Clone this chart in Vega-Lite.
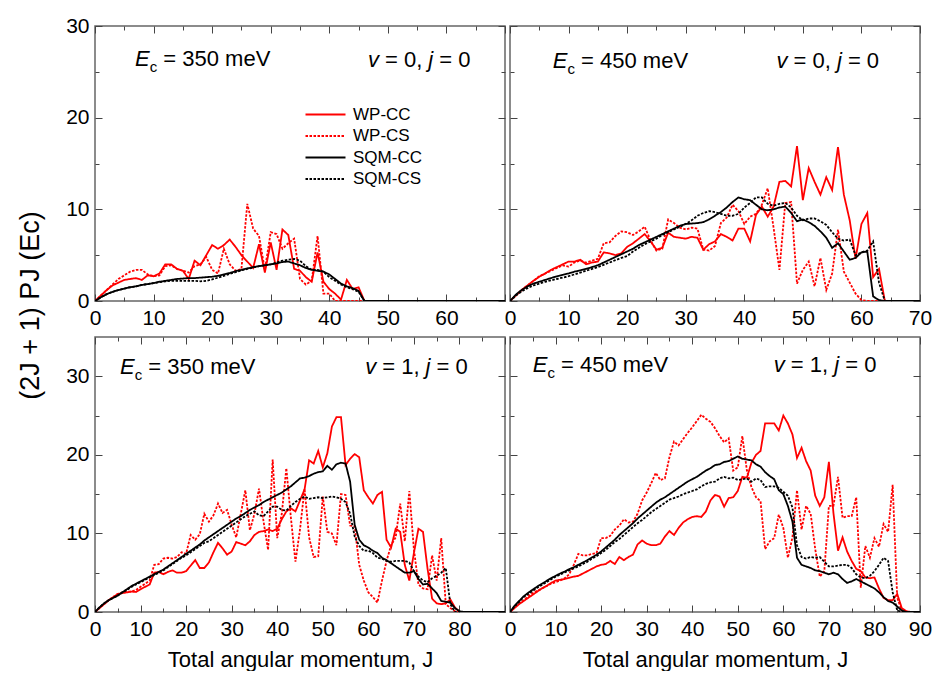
{
"$schema":"https://vega.github.io/schema/vega-lite/v6.json",
"padding":{"left":15,"top":14,"right":0,"bottom":0},
"datasets":{
"tl":[
{"s":"WP-CC","J":0,"P":0},{"s":"WP-CC","J":1,"P":0.6},{"s":"WP-CC","J":2,"P":1.2},{"s":"WP-CC","J":3,"P":1.7},{"s":"WP-CC","J":4,"P":2.0},{"s":"WP-CC","J":5,"P":2.3},{"s":"WP-CC","J":6,"P":2.4},{"s":"WP-CC","J":7,"P":2.5},{"s":"WP-CC","J":8,"P":2.3},{"s":"WP-CC","J":9,"P":2.8},{"s":"WP-CC","J":10,"P":2.7},{"s":"WP-CC","J":11,"P":3.0},{"s":"WP-CC","J":12,"P":4.0},{"s":"WP-CC","J":13,"P":4.0},{"s":"WP-CC","J":14,"P":3.5},{"s":"WP-CC","J":15,"P":3.3},{"s":"WP-CC","J":16,"P":2.4},{"s":"WP-CC","J":17,"P":4.4},{"s":"WP-CC","J":18,"P":3.9},{"s":"WP-CC","J":19,"P":5.0},{"s":"WP-CC","J":20,"P":6.1},{"s":"WP-CC","J":21,"P":5.7},{"s":"WP-CC","J":22,"P":6.1},{"s":"WP-CC","J":23,"P":6.7},{"s":"WP-CC","J":24,"P":5.9},{"s":"WP-CC","J":25,"P":5.0},{"s":"WP-CC","J":26,"P":4.3},{"s":"WP-CC","J":27,"P":3.6},{"s":"WP-CC","J":28,"P":6.2},{"s":"WP-CC","J":29,"P":3.1},{"s":"WP-CC","J":30,"P":6.4},{"s":"WP-CC","J":31,"P":3.4},{"s":"WP-CC","J":32,"P":7.8},{"s":"WP-CC","J":33,"P":7.2},{"s":"WP-CC","J":34,"P":3.5},{"s":"WP-CC","J":35,"P":3.3},{"s":"WP-CC","J":36,"P":2.6},{"s":"WP-CC","J":37,"P":2.1},{"s":"WP-CC","J":38,"P":5.3},{"s":"WP-CC","J":39,"P":2.1},{"s":"WP-CC","J":40,"P":1.3},{"s":"WP-CC","J":41,"P":0.8},{"s":"WP-CC","J":42,"P":0.15},{"s":"WP-CC","J":43,"P":2.3},{"s":"WP-CC","J":44,"P":1.3},{"s":"WP-CC","J":45,"P":1.5},{"s":"WP-CC","J":46,"P":0},{"s":"WP-CC","J":51,"P":0},
{"s":"WP-CS","J":0,"P":0},{"s":"WP-CS","J":1,"P":0.6},{"s":"WP-CS","J":2,"P":1.2},{"s":"WP-CS","J":3,"P":1.8},{"s":"WP-CS","J":4,"P":2.4},{"s":"WP-CS","J":5,"P":2.8},{"s":"WP-CS","J":6,"P":3.2},{"s":"WP-CS","J":7,"P":3.4},{"s":"WP-CS","J":8,"P":3.4},{"s":"WP-CS","J":9,"P":2.9},{"s":"WP-CS","J":10,"P":2.7},{"s":"WP-CS","J":11,"P":2.8},{"s":"WP-CS","J":12,"P":3.8},{"s":"WP-CS","J":13,"P":3.9},{"s":"WP-CS","J":14,"P":3.5},{"s":"WP-CS","J":15,"P":3.3},{"s":"WP-CS","J":16,"P":3.1},{"s":"WP-CS","J":17,"P":3.8},{"s":"WP-CS","J":18,"P":4.0},{"s":"WP-CS","J":19,"P":4.8},{"s":"WP-CS","J":20,"P":3.4},{"s":"WP-CS","J":21,"P":3.0},{"s":"WP-CS","J":22,"P":5.7},{"s":"WP-CS","J":23,"P":4.0},{"s":"WP-CS","J":24,"P":3.3},{"s":"WP-CS","J":25,"P":3.5},{"s":"WP-CS","J":26,"P":10.6},{"s":"WP-CS","J":27,"P":7.9},{"s":"WP-CS","J":28,"P":7.1},{"s":"WP-CS","J":29,"P":3.4},{"s":"WP-CS","J":30,"P":7.5},{"s":"WP-CS","J":31,"P":7.3},{"s":"WP-CS","J":32,"P":5.7},{"s":"WP-CS","J":33,"P":6.3},{"s":"WP-CS","J":34,"P":6.8},{"s":"WP-CS","J":35,"P":2.4},{"s":"WP-CS","J":36,"P":1.8},{"s":"WP-CS","J":37,"P":2.2},{"s":"WP-CS","J":38,"P":7.1},{"s":"WP-CS","J":39,"P":0.8},{"s":"WP-CS","J":40,"P":0.8},{"s":"WP-CS","J":41,"P":0},{"s":"WP-CS","J":46,"P":0},
{"s":"SQM-CC","J":0,"P":0},{"s":"SQM-CC","J":1,"P":0.4},{"s":"SQM-CC","J":2,"P":0.75},{"s":"SQM-CC","J":3,"P":1.0},{"s":"SQM-CC","J":4,"P":1.2},{"s":"SQM-CC","J":5,"P":1.35},{"s":"SQM-CC","J":6,"P":1.5},{"s":"SQM-CC","J":7,"P":1.6},{"s":"SQM-CC","J":8,"P":1.75},{"s":"SQM-CC","J":9,"P":1.85},{"s":"SQM-CC","J":10,"P":1.95},{"s":"SQM-CC","J":11,"P":2.1},{"s":"SQM-CC","J":12,"P":2.2},{"s":"SQM-CC","J":13,"P":2.3},{"s":"SQM-CC","J":14,"P":2.4},{"s":"SQM-CC","J":15,"P":2.45},{"s":"SQM-CC","J":16,"P":2.5},{"s":"SQM-CC","J":17,"P":2.5},{"s":"SQM-CC","J":18,"P":2.55},{"s":"SQM-CC","J":19,"P":2.6},{"s":"SQM-CC","J":20,"P":2.65},{"s":"SQM-CC","J":21,"P":2.75},{"s":"SQM-CC","J":22,"P":2.9},{"s":"SQM-CC","J":23,"P":3.05},{"s":"SQM-CC","J":24,"P":3.25},{"s":"SQM-CC","J":25,"P":3.4},{"s":"SQM-CC","J":26,"P":3.55},{"s":"SQM-CC","J":27,"P":3.7},{"s":"SQM-CC","J":28,"P":3.8},{"s":"SQM-CC","J":29,"P":3.9},{"s":"SQM-CC","J":30,"P":4.0},{"s":"SQM-CC","J":31,"P":4.1},{"s":"SQM-CC","J":32,"P":4.25},{"s":"SQM-CC","J":33,"P":4.3},{"s":"SQM-CC","J":34,"P":4.1},{"s":"SQM-CC","J":35,"P":3.9},{"s":"SQM-CC","J":36,"P":3.6},{"s":"SQM-CC","J":37,"P":3.4},{"s":"SQM-CC","J":38,"P":3.3},{"s":"SQM-CC","J":39,"P":3.2},{"s":"SQM-CC","J":40,"P":2.9},{"s":"SQM-CC","J":41,"P":2.4},{"s":"SQM-CC","J":42,"P":1.9},{"s":"SQM-CC","J":43,"P":1.6},{"s":"SQM-CC","J":44,"P":1.4},{"s":"SQM-CC","J":45,"P":1.1},{"s":"SQM-CC","J":46,"P":0},{"s":"SQM-CC","J":70,"P":0},
{"s":"SQM-CS","J":0,"P":0},{"s":"SQM-CS","J":1,"P":0.4},{"s":"SQM-CS","J":2,"P":0.75},{"s":"SQM-CS","J":3,"P":1.0},{"s":"SQM-CS","J":4,"P":1.2},{"s":"SQM-CS","J":5,"P":1.35},{"s":"SQM-CS","J":6,"P":1.5},{"s":"SQM-CS","J":7,"P":1.6},{"s":"SQM-CS","J":8,"P":1.75},{"s":"SQM-CS","J":9,"P":1.85},{"s":"SQM-CS","J":10,"P":1.95},{"s":"SQM-CS","J":11,"P":2.05},{"s":"SQM-CS","J":12,"P":2.15},{"s":"SQM-CS","J":13,"P":2.2},{"s":"SQM-CS","J":14,"P":2.2},{"s":"SQM-CS","J":15,"P":2.2},{"s":"SQM-CS","J":16,"P":2.2},{"s":"SQM-CS","J":17,"P":2.2},{"s":"SQM-CS","J":18,"P":2.15},{"s":"SQM-CS","J":19,"P":2.2},{"s":"SQM-CS","J":20,"P":2.35},{"s":"SQM-CS","J":21,"P":2.55},{"s":"SQM-CS","J":22,"P":2.75},{"s":"SQM-CS","J":23,"P":2.95},{"s":"SQM-CS","J":24,"P":3.15},{"s":"SQM-CS","J":25,"P":3.35},{"s":"SQM-CS","J":26,"P":3.5},{"s":"SQM-CS","J":27,"P":3.65},{"s":"SQM-CS","J":28,"P":3.8},{"s":"SQM-CS","J":29,"P":3.9},{"s":"SQM-CS","J":30,"P":4.0},{"s":"SQM-CS","J":31,"P":4.2},{"s":"SQM-CS","J":32,"P":4.4},{"s":"SQM-CS","J":33,"P":4.5},{"s":"SQM-CS","J":34,"P":4.6},{"s":"SQM-CS","J":35,"P":4.4},{"s":"SQM-CS","J":36,"P":3.8},{"s":"SQM-CS","J":37,"P":3.4},{"s":"SQM-CS","J":38,"P":3.4},{"s":"SQM-CS","J":39,"P":3.2},{"s":"SQM-CS","J":40,"P":2.6},{"s":"SQM-CS","J":41,"P":2.2},{"s":"SQM-CS","J":42,"P":1.8},{"s":"SQM-CS","J":43,"P":1.5},{"s":"SQM-CS","J":44,"P":1.3},{"s":"SQM-CS","J":45,"P":1.0},{"s":"SQM-CS","J":46,"P":0},{"s":"SQM-CS","J":70,"P":0}
],
"tr":[
{"s":"WP-CC","J":0,"P":0},{"s":"WP-CC","J":1,"P":0.6},{"s":"WP-CC","J":2,"P":1.2},{"s":"WP-CC","J":3,"P":1.7},{"s":"WP-CC","J":4,"P":2.2},{"s":"WP-CC","J":5,"P":2.65},{"s":"WP-CC","J":6,"P":3.0},{"s":"WP-CC","J":7,"P":3.4},{"s":"WP-CC","J":8,"P":3.7},{"s":"WP-CC","J":9,"P":4.0},{"s":"WP-CC","J":10,"P":4.3},{"s":"WP-CC","J":11,"P":4.3},{"s":"WP-CC","J":12,"P":4.5},{"s":"WP-CC","J":13,"P":4.0},{"s":"WP-CC","J":14,"P":4.2},{"s":"WP-CC","J":15,"P":4.3},{"s":"WP-CC","J":16,"P":5.3},{"s":"WP-CC","J":17,"P":5.2},{"s":"WP-CC","J":18,"P":5.0},{"s":"WP-CC","J":19,"P":5.2},{"s":"WP-CC","J":20,"P":5.9},{"s":"WP-CC","J":21,"P":6.3},{"s":"WP-CC","J":22,"P":6.8},{"s":"WP-CC","J":23,"P":7.3},{"s":"WP-CC","J":24,"P":6.5},{"s":"WP-CC","J":25,"P":5.6},{"s":"WP-CC","J":26,"P":5.8},{"s":"WP-CC","J":27,"P":7.45},{"s":"WP-CC","J":28,"P":7.0},{"s":"WP-CC","J":29,"P":6.9},{"s":"WP-CC","J":30,"P":6.8},{"s":"WP-CC","J":31,"P":7.0},{"s":"WP-CC","J":32,"P":6.9},{"s":"WP-CC","J":33,"P":5.6},{"s":"WP-CC","J":34,"P":6.2},{"s":"WP-CC","J":35,"P":6.5},{"s":"WP-CC","J":36,"P":7.3},{"s":"WP-CC","J":37,"P":7.0},{"s":"WP-CC","J":38,"P":6.6},{"s":"WP-CC","J":39,"P":7.9},{"s":"WP-CC","J":40,"P":7.9},{"s":"WP-CC","J":41,"P":6.5},{"s":"WP-CC","J":42,"P":9.4},{"s":"WP-CC","J":43,"P":10.3},{"s":"WP-CC","J":44,"P":9.2},{"s":"WP-CC","J":45,"P":10.3},{"s":"WP-CC","J":46,"P":13.0},{"s":"WP-CC","J":47,"P":13.1},{"s":"WP-CC","J":48,"P":12.5},{"s":"WP-CC","J":49,"P":16.9},{"s":"WP-CC","J":50,"P":11.0},{"s":"WP-CC","J":51,"P":14.5},{"s":"WP-CC","J":52,"P":13.0},{"s":"WP-CC","J":53,"P":11.6},{"s":"WP-CC","J":54,"P":13.5},{"s":"WP-CC","J":55,"P":12.1},{"s":"WP-CC","J":56,"P":16.8},{"s":"WP-CC","J":57,"P":11.6},{"s":"WP-CC","J":58,"P":8.8},{"s":"WP-CC","J":59,"P":4.6},{"s":"WP-CC","J":60,"P":8.4},{"s":"WP-CC","J":61,"P":9.6},{"s":"WP-CC","J":62,"P":2.6},{"s":"WP-CC","J":63,"P":3.5},{"s":"WP-CC","J":64,"P":0},{"s":"WP-CC","J":70,"P":0},
{"s":"WP-CS","J":0,"P":0},{"s":"WP-CS","J":1,"P":0.6},{"s":"WP-CS","J":2,"P":1.2},{"s":"WP-CS","J":3,"P":1.7},{"s":"WP-CS","J":4,"P":2.2},{"s":"WP-CS","J":5,"P":2.7},{"s":"WP-CS","J":6,"P":3.0},{"s":"WP-CS","J":7,"P":3.3},{"s":"WP-CS","J":8,"P":3.6},{"s":"WP-CS","J":9,"P":3.9},{"s":"WP-CS","J":10,"P":3.75},{"s":"WP-CS","J":11,"P":4.2},{"s":"WP-CS","J":12,"P":4.4},{"s":"WP-CS","J":13,"P":4.2},{"s":"WP-CS","J":14,"P":4.4},{"s":"WP-CS","J":15,"P":4.6},{"s":"WP-CS","J":16,"P":6.3},{"s":"WP-CS","J":17,"P":6.4},{"s":"WP-CS","J":18,"P":7.1},{"s":"WP-CS","J":19,"P":7.6},{"s":"WP-CS","J":20,"P":7.5},{"s":"WP-CS","J":21,"P":7.2},{"s":"WP-CS","J":22,"P":7.6},{"s":"WP-CS","J":23,"P":8.1},{"s":"WP-CS","J":24,"P":6.6},{"s":"WP-CS","J":25,"P":5.5},{"s":"WP-CS","J":26,"P":5.7},{"s":"WP-CS","J":27,"P":8.9},{"s":"WP-CS","J":28,"P":8.5},{"s":"WP-CS","J":29,"P":8.0},{"s":"WP-CS","J":30,"P":7.8},{"s":"WP-CS","J":31,"P":8.0},{"s":"WP-CS","J":32,"P":7.9},{"s":"WP-CS","J":33,"P":5.6},{"s":"WP-CS","J":34,"P":5.5},{"s":"WP-CS","J":35,"P":6.0},{"s":"WP-CS","J":36,"P":8.5},{"s":"WP-CS","J":37,"P":9.1},{"s":"WP-CS","J":38,"P":10.5},{"s":"WP-CS","J":39,"P":9.8},{"s":"WP-CS","J":40,"P":8.4},{"s":"WP-CS","J":41,"P":9.2},{"s":"WP-CS","J":42,"P":9.5},{"s":"WP-CS","J":43,"P":10.5},{"s":"WP-CS","J":44,"P":12.3},{"s":"WP-CS","J":45,"P":8.0},{"s":"WP-CS","J":46,"P":3.4},{"s":"WP-CS","J":47,"P":10.7},{"s":"WP-CS","J":48,"P":10.8},{"s":"WP-CS","J":49,"P":1.9},{"s":"WP-CS","J":50,"P":3.4},{"s":"WP-CS","J":51,"P":4.3},{"s":"WP-CS","J":52,"P":1.6},{"s":"WP-CS","J":53,"P":4.7},{"s":"WP-CS","J":54,"P":1.2},{"s":"WP-CS","J":55,"P":3.0},{"s":"WP-CS","J":56,"P":7.8},{"s":"WP-CS","J":57,"P":3.2},{"s":"WP-CS","J":58,"P":2.0},{"s":"WP-CS","J":59,"P":0.8},{"s":"WP-CS","J":60,"P":0.1},{"s":"WP-CS","J":61,"P":0},{"s":"WP-CS","J":64,"P":0},
{"s":"SQM-CC","J":0,"P":0},{"s":"SQM-CC","J":1,"P":0.7},{"s":"SQM-CC","J":2,"P":1.2},{"s":"SQM-CC","J":3,"P":1.6},{"s":"SQM-CC","J":4,"P":1.9},{"s":"SQM-CC","J":5,"P":2.1},{"s":"SQM-CC","J":6,"P":2.3},{"s":"SQM-CC","J":7,"P":2.5},{"s":"SQM-CC","J":8,"P":2.7},{"s":"SQM-CC","J":9,"P":2.85},{"s":"SQM-CC","J":10,"P":3.0},{"s":"SQM-CC","J":11,"P":3.2},{"s":"SQM-CC","J":12,"P":3.35},{"s":"SQM-CC","J":13,"P":3.5},{"s":"SQM-CC","J":14,"P":3.7},{"s":"SQM-CC","J":15,"P":3.9},{"s":"SQM-CC","J":16,"P":4.2},{"s":"SQM-CC","J":17,"P":4.5},{"s":"SQM-CC","J":18,"P":4.8},{"s":"SQM-CC","J":19,"P":5.1},{"s":"SQM-CC","J":20,"P":5.4},{"s":"SQM-CC","J":21,"P":5.7},{"s":"SQM-CC","J":22,"P":6.1},{"s":"SQM-CC","J":23,"P":6.4},{"s":"SQM-CC","J":24,"P":6.7},{"s":"SQM-CC","J":25,"P":7.0},{"s":"SQM-CC","J":26,"P":7.3},{"s":"SQM-CC","J":27,"P":7.6},{"s":"SQM-CC","J":28,"P":7.9},{"s":"SQM-CC","J":29,"P":8.2},{"s":"SQM-CC","J":30,"P":8.4},{"s":"SQM-CC","J":31,"P":8.45},{"s":"SQM-CC","J":32,"P":8.5},{"s":"SQM-CC","J":33,"P":8.6},{"s":"SQM-CC","J":34,"P":8.9},{"s":"SQM-CC","J":35,"P":9.3},{"s":"SQM-CC","J":36,"P":9.7},{"s":"SQM-CC","J":37,"P":10.2},{"s":"SQM-CC","J":38,"P":10.8},{"s":"SQM-CC","J":39,"P":11.3},{"s":"SQM-CC","J":40,"P":11.1},{"s":"SQM-CC","J":41,"P":11.0},{"s":"SQM-CC","J":42,"P":10.5},{"s":"SQM-CC","J":43,"P":10.0},{"s":"SQM-CC","J":44,"P":9.9},{"s":"SQM-CC","J":45,"P":10.0},{"s":"SQM-CC","J":46,"P":10.2},{"s":"SQM-CC","J":47,"P":10.3},{"s":"SQM-CC","J":48,"P":9.6},{"s":"SQM-CC","J":49,"P":8.7},{"s":"SQM-CC","J":50,"P":8.9},{"s":"SQM-CC","J":51,"P":8.6},{"s":"SQM-CC","J":52,"P":8.2},{"s":"SQM-CC","J":53,"P":7.6},{"s":"SQM-CC","J":54,"P":6.9},{"s":"SQM-CC","J":55,"P":5.8},{"s":"SQM-CC","J":56,"P":6.3},{"s":"SQM-CC","J":57,"P":5.4},{"s":"SQM-CC","J":58,"P":4.5},{"s":"SQM-CC","J":59,"P":4.7},{"s":"SQM-CC","J":60,"P":5.3},{"s":"SQM-CC","J":61,"P":5.4},{"s":"SQM-CC","J":62,"P":0.5},{"s":"SQM-CC","J":63,"P":0.1},{"s":"SQM-CC","J":64,"P":0},{"s":"SQM-CC","J":70,"P":0},
{"s":"SQM-CS","J":0,"P":0},{"s":"SQM-CS","J":1,"P":0.6},{"s":"SQM-CS","J":2,"P":1.05},{"s":"SQM-CS","J":3,"P":1.4},{"s":"SQM-CS","J":4,"P":1.7},{"s":"SQM-CS","J":5,"P":1.9},{"s":"SQM-CS","J":6,"P":2.1},{"s":"SQM-CS","J":7,"P":2.25},{"s":"SQM-CS","J":8,"P":2.4},{"s":"SQM-CS","J":9,"P":2.55},{"s":"SQM-CS","J":10,"P":2.7},{"s":"SQM-CS","J":11,"P":2.9},{"s":"SQM-CS","J":12,"P":3.1},{"s":"SQM-CS","J":13,"P":3.3},{"s":"SQM-CS","J":14,"P":3.5},{"s":"SQM-CS","J":15,"P":3.7},{"s":"SQM-CS","J":16,"P":3.95},{"s":"SQM-CS","J":17,"P":4.2},{"s":"SQM-CS","J":18,"P":4.45},{"s":"SQM-CS","J":19,"P":4.7},{"s":"SQM-CS","J":20,"P":4.9},{"s":"SQM-CS","J":21,"P":5.4},{"s":"SQM-CS","J":22,"P":5.8},{"s":"SQM-CS","J":23,"P":6.2},{"s":"SQM-CS","J":24,"P":6.5},{"s":"SQM-CS","J":25,"P":6.8},{"s":"SQM-CS","J":26,"P":7.2},{"s":"SQM-CS","J":27,"P":7.5},{"s":"SQM-CS","J":28,"P":7.8},{"s":"SQM-CS","J":29,"P":8.1},{"s":"SQM-CS","J":30,"P":8.4},{"s":"SQM-CS","J":31,"P":8.8},{"s":"SQM-CS","J":32,"P":9.3},{"s":"SQM-CS","J":33,"P":9.6},{"s":"SQM-CS","J":34,"P":9.8},{"s":"SQM-CS","J":35,"P":9.7},{"s":"SQM-CS","J":36,"P":9.5},{"s":"SQM-CS","J":37,"P":9.3},{"s":"SQM-CS","J":38,"P":9.3},{"s":"SQM-CS","J":39,"P":9.5},{"s":"SQM-CS","J":40,"P":10.2},{"s":"SQM-CS","J":41,"P":10.7},{"s":"SQM-CS","J":42,"P":11.3},{"s":"SQM-CS","J":43,"P":11.3},{"s":"SQM-CS","J":44,"P":10.6},{"s":"SQM-CS","J":45,"P":10.4},{"s":"SQM-CS","J":46,"P":10.6},{"s":"SQM-CS","J":47,"P":10.7},{"s":"SQM-CS","J":48,"P":10.2},{"s":"SQM-CS","J":49,"P":9.3},{"s":"SQM-CS","J":50,"P":8.8},{"s":"SQM-CS","J":51,"P":9.0},{"s":"SQM-CS","J":52,"P":9.0},{"s":"SQM-CS","J":53,"P":8.7},{"s":"SQM-CS","J":54,"P":8.3},{"s":"SQM-CS","J":55,"P":7.5},{"s":"SQM-CS","J":56,"P":6.8},{"s":"SQM-CS","J":57,"P":6.6},{"s":"SQM-CS","J":58,"P":6.7},{"s":"SQM-CS","J":59,"P":5.0},{"s":"SQM-CS","J":60,"P":5.3},{"s":"SQM-CS","J":61,"P":5.5},{"s":"SQM-CS","J":62,"P":6.5},{"s":"SQM-CS","J":63,"P":2.0},{"s":"SQM-CS","J":64,"P":0},{"s":"SQM-CS","J":70,"P":0}
],
"bl":[
{"s":"WP-CC","J":0,"P":0},{"s":"WP-CC","J":1,"P":0.5},{"s":"WP-CC","J":2,"P":1.0},{"s":"WP-CC","J":3,"P":1.5},{"s":"WP-CC","J":4,"P":1.9},{"s":"WP-CC","J":5,"P":2.3},{"s":"WP-CC","J":6,"P":2.4},{"s":"WP-CC","J":7,"P":2.5},{"s":"WP-CC","J":8,"P":2.6},{"s":"WP-CC","J":9,"P":2.55},{"s":"WP-CC","J":10,"P":2.9},{"s":"WP-CC","J":11,"P":3.2},{"s":"WP-CC","J":12,"P":3.5},{"s":"WP-CC","J":13,"P":5.0},{"s":"WP-CC","J":14,"P":5.1},{"s":"WP-CC","J":15,"P":4.8},{"s":"WP-CC","J":16,"P":5.1},{"s":"WP-CC","J":17,"P":5.3},{"s":"WP-CC","J":18,"P":5.0},{"s":"WP-CC","J":19,"P":5.0},{"s":"WP-CC","J":20,"P":5.2},{"s":"WP-CC","J":21,"P":5.9},{"s":"WP-CC","J":22,"P":6.6},{"s":"WP-CC","J":23,"P":5.6},{"s":"WP-CC","J":24,"P":5.6},{"s":"WP-CC","J":25,"P":6.3},{"s":"WP-CC","J":26,"P":7.6},{"s":"WP-CC","J":27,"P":8.8},{"s":"WP-CC","J":28,"P":8.1},{"s":"WP-CC","J":29,"P":7.3},{"s":"WP-CC","J":30,"P":7.7},{"s":"WP-CC","J":31,"P":8.9},{"s":"WP-CC","J":32,"P":8.7},{"s":"WP-CC","J":33,"P":8.5},{"s":"WP-CC","J":34,"P":9.0},{"s":"WP-CC","J":35,"P":9.8},{"s":"WP-CC","J":36,"P":10.2},{"s":"WP-CC","J":37,"P":10.3},{"s":"WP-CC","J":38,"P":10.5},{"s":"WP-CC","J":39,"P":10.3},{"s":"WP-CC","J":40,"P":10.6},{"s":"WP-CC","J":41,"P":11.8},{"s":"WP-CC","J":42,"P":12.8},{"s":"WP-CC","J":43,"P":13.2},{"s":"WP-CC","J":44,"P":12.8},{"s":"WP-CC","J":45,"P":14.2},{"s":"WP-CC","J":46,"P":15.6},{"s":"WP-CC","J":47,"P":19.3},{"s":"WP-CC","J":48,"P":18.9},{"s":"WP-CC","J":49,"P":20.5},{"s":"WP-CC","J":50,"P":18.4},{"s":"WP-CC","J":51,"P":20.2},{"s":"WP-CC","J":52,"P":23.6},{"s":"WP-CC","J":53,"P":24.8},{"s":"WP-CC","J":54,"P":24.8},{"s":"WP-CC","J":55,"P":18.7},{"s":"WP-CC","J":56,"P":19.5},{"s":"WP-CC","J":57,"P":20.1},{"s":"WP-CC","J":58,"P":19.7},{"s":"WP-CC","J":59,"P":15.5},{"s":"WP-CC","J":60,"P":14.6},{"s":"WP-CC","J":61,"P":13.8},{"s":"WP-CC","J":62,"P":14.9},{"s":"WP-CC","J":63,"P":15.3},{"s":"WP-CC","J":64,"P":9.2},{"s":"WP-CC","J":65,"P":8.2},{"s":"WP-CC","J":66,"P":10.6},{"s":"WP-CC","J":67,"P":10.2},{"s":"WP-CC","J":68,"P":6.0},{"s":"WP-CC","J":69,"P":4.0},{"s":"WP-CC","J":70,"P":7.5},{"s":"WP-CC","J":71,"P":10.6},{"s":"WP-CC","J":72,"P":10.2},{"s":"WP-CC","J":73,"P":5.5},{"s":"WP-CC","J":74,"P":1.7},{"s":"WP-CC","J":75,"P":1.1},{"s":"WP-CC","J":76,"P":1.0},{"s":"WP-CC","J":77,"P":1.1},{"s":"WP-CC","J":78,"P":1.6},{"s":"WP-CC","J":79,"P":0.6},{"s":"WP-CC","J":80,"P":0},{"s":"WP-CC","J":85,"P":0},
{"s":"WP-CS","J":0,"P":0},{"s":"WP-CS","J":1,"P":0.5},{"s":"WP-CS","J":2,"P":1.0},{"s":"WP-CS","J":3,"P":1.5},{"s":"WP-CS","J":4,"P":1.9},{"s":"WP-CS","J":5,"P":2.3},{"s":"WP-CS","J":6,"P":2.5},{"s":"WP-CS","J":7,"P":2.6},{"s":"WP-CS","J":8,"P":2.6},{"s":"WP-CS","J":9,"P":2.8},{"s":"WP-CS","J":10,"P":3.2},{"s":"WP-CS","J":11,"P":3.6},{"s":"WP-CS","J":12,"P":4.0},{"s":"WP-CS","J":13,"P":6.0},{"s":"WP-CS","J":14,"P":6.1},{"s":"WP-CS","J":15,"P":6.8},{"s":"WP-CS","J":16,"P":6.9},{"s":"WP-CS","J":17,"P":6.8},{"s":"WP-CS","J":18,"P":7.0},{"s":"WP-CS","J":19,"P":7.6},{"s":"WP-CS","J":20,"P":7.4},{"s":"WP-CS","J":21,"P":9.8},{"s":"WP-CS","J":22,"P":9.2},{"s":"WP-CS","J":23,"P":9.9},{"s":"WP-CS","J":24,"P":12.5},{"s":"WP-CS","J":25,"P":11.5},{"s":"WP-CS","J":26,"P":12.3},{"s":"WP-CS","J":27,"P":13.8},{"s":"WP-CS","J":28,"P":12.6},{"s":"WP-CS","J":29,"P":13.0},{"s":"WP-CS","J":30,"P":11.1},{"s":"WP-CS","J":31,"P":9.5},{"s":"WP-CS","J":32,"P":12.5},{"s":"WP-CS","J":33,"P":15.5},{"s":"WP-CS","J":34,"P":10.4},{"s":"WP-CS","J":35,"P":12.5},{"s":"WP-CS","J":36,"P":15.7},{"s":"WP-CS","J":37,"P":11.5},{"s":"WP-CS","J":38,"P":7.9},{"s":"WP-CS","J":39,"P":19.4},{"s":"WP-CS","J":40,"P":9.4},{"s":"WP-CS","J":41,"P":12.5},{"s":"WP-CS","J":42,"P":18.3},{"s":"WP-CS","J":43,"P":12.0},{"s":"WP-CS","J":44,"P":6.4},{"s":"WP-CS","J":45,"P":10.5},{"s":"WP-CS","J":46,"P":15.7},{"s":"WP-CS","J":47,"P":9.5},{"s":"WP-CS","J":48,"P":7.0},{"s":"WP-CS","J":49,"P":7.1},{"s":"WP-CS","J":50,"P":14.7},{"s":"WP-CS","J":51,"P":10.2},{"s":"WP-CS","J":52,"P":10.0},{"s":"WP-CS","J":53,"P":8.5},{"s":"WP-CS","J":54,"P":15.0},{"s":"WP-CS","J":55,"P":14.9},{"s":"WP-CS","J":56,"P":11.0},{"s":"WP-CS","J":57,"P":10.9},{"s":"WP-CS","J":58,"P":6.0},{"s":"WP-CS","J":59,"P":4.0},{"s":"WP-CS","J":60,"P":2.5},{"s":"WP-CS","J":61,"P":1.9},{"s":"WP-CS","J":62,"P":1.2},{"s":"WP-CS","J":63,"P":4.0},{"s":"WP-CS","J":64,"P":6.5},{"s":"WP-CS","J":65,"P":8.5},{"s":"WP-CS","J":66,"P":9.5},{"s":"WP-CS","J":67,"P":13.8},{"s":"WP-CS","J":68,"P":9.0},{"s":"WP-CS","J":69,"P":15.4},{"s":"WP-CS","J":70,"P":8.0},{"s":"WP-CS","J":71,"P":3.5},{"s":"WP-CS","J":72,"P":3.0},{"s":"WP-CS","J":73,"P":2.9},{"s":"WP-CS","J":74,"P":7.2},{"s":"WP-CS","J":75,"P":4.0},{"s":"WP-CS","J":76,"P":9.4},{"s":"WP-CS","J":77,"P":1.0},{"s":"WP-CS","J":78,"P":0.5},{"s":"WP-CS","J":79,"P":0.1},{"s":"WP-CS","J":80,"P":0},
{"s":"SQM-CC","J":0,"P":0},{"s":"SQM-CC","J":1,"P":0.6},{"s":"SQM-CC","J":2,"P":1.1},{"s":"SQM-CC","J":3,"P":1.5},{"s":"SQM-CC","J":4,"P":1.8},{"s":"SQM-CC","J":5,"P":2.1},{"s":"SQM-CC","J":6,"P":2.5},{"s":"SQM-CC","J":7,"P":2.9},{"s":"SQM-CC","J":8,"P":3.3},{"s":"SQM-CC","J":9,"P":3.6},{"s":"SQM-CC","J":10,"P":3.9},{"s":"SQM-CC","J":11,"P":4.2},{"s":"SQM-CC","J":12,"P":4.5},{"s":"SQM-CC","J":13,"P":4.8},{"s":"SQM-CC","J":14,"P":5.1},{"s":"SQM-CC","J":15,"P":5.4},{"s":"SQM-CC","J":16,"P":5.8},{"s":"SQM-CC","J":17,"P":6.2},{"s":"SQM-CC","J":18,"P":6.6},{"s":"SQM-CC","J":19,"P":7.0},{"s":"SQM-CC","J":20,"P":7.4},{"s":"SQM-CC","J":21,"P":7.8},{"s":"SQM-CC","J":22,"P":8.2},{"s":"SQM-CC","J":23,"P":8.6},{"s":"SQM-CC","J":24,"P":9.1},{"s":"SQM-CC","J":25,"P":9.5},{"s":"SQM-CC","J":26,"P":9.9},{"s":"SQM-CC","J":27,"P":10.3},{"s":"SQM-CC","J":28,"P":10.7},{"s":"SQM-CC","J":29,"P":11.1},{"s":"SQM-CC","J":30,"P":11.5},{"s":"SQM-CC","J":31,"P":11.9},{"s":"SQM-CC","J":32,"P":12.2},{"s":"SQM-CC","J":33,"P":12.6},{"s":"SQM-CC","J":34,"P":13.0},{"s":"SQM-CC","J":35,"P":13.3},{"s":"SQM-CC","J":36,"P":13.6},{"s":"SQM-CC","J":37,"P":14.0},{"s":"SQM-CC","J":38,"P":14.3},{"s":"SQM-CC","J":39,"P":14.6},{"s":"SQM-CC","J":40,"P":14.9},{"s":"SQM-CC","J":41,"P":15.2},{"s":"SQM-CC","J":42,"P":15.6},{"s":"SQM-CC","J":43,"P":16.0},{"s":"SQM-CC","J":44,"P":16.5},{"s":"SQM-CC","J":45,"P":17.0},{"s":"SQM-CC","J":46,"P":17.1},{"s":"SQM-CC","J":47,"P":17.3},{"s":"SQM-CC","J":48,"P":17.6},{"s":"SQM-CC","J":49,"P":17.8},{"s":"SQM-CC","J":50,"P":17.9},{"s":"SQM-CC","J":51,"P":18.6},{"s":"SQM-CC","J":52,"P":18.1},{"s":"SQM-CC","J":53,"P":18.8},{"s":"SQM-CC","J":54,"P":19.0},{"s":"SQM-CC","J":55,"P":18.9},{"s":"SQM-CC","J":56,"P":16.6},{"s":"SQM-CC","J":57,"P":11.1},{"s":"SQM-CC","J":58,"P":9.2},{"s":"SQM-CC","J":59,"P":8.5},{"s":"SQM-CC","J":60,"P":8.2},{"s":"SQM-CC","J":61,"P":7.8},{"s":"SQM-CC","J":62,"P":7.5},{"s":"SQM-CC","J":63,"P":6.9},{"s":"SQM-CC","J":64,"P":6.6},{"s":"SQM-CC","J":65,"P":6.2},{"s":"SQM-CC","J":66,"P":5.8},{"s":"SQM-CC","J":67,"P":5.4},{"s":"SQM-CC","J":68,"P":5.0},{"s":"SQM-CC","J":69,"P":5.0},{"s":"SQM-CC","J":70,"P":5.2},{"s":"SQM-CC","J":71,"P":4.2},{"s":"SQM-CC","J":72,"P":3.5},{"s":"SQM-CC","J":73,"P":3.6},{"s":"SQM-CC","J":74,"P":3.0},{"s":"SQM-CC","J":75,"P":2.4},{"s":"SQM-CC","J":76,"P":1.4},{"s":"SQM-CC","J":77,"P":1.3},{"s":"SQM-CC","J":78,"P":1.2},{"s":"SQM-CC","J":79,"P":0.5},{"s":"SQM-CC","J":80,"P":0.1},{"s":"SQM-CC","J":81,"P":0},{"s":"SQM-CC","J":90,"P":0},
{"s":"SQM-CS","J":0,"P":0},{"s":"SQM-CS","J":1,"P":0.6},{"s":"SQM-CS","J":2,"P":1.1},{"s":"SQM-CS","J":3,"P":1.5},{"s":"SQM-CS","J":4,"P":1.8},{"s":"SQM-CS","J":5,"P":2.1},{"s":"SQM-CS","J":6,"P":2.5},{"s":"SQM-CS","J":7,"P":2.8},{"s":"SQM-CS","J":8,"P":3.2},{"s":"SQM-CS","J":9,"P":3.5},{"s":"SQM-CS","J":10,"P":3.8},{"s":"SQM-CS","J":11,"P":4.1},{"s":"SQM-CS","J":12,"P":4.4},{"s":"SQM-CS","J":13,"P":4.7},{"s":"SQM-CS","J":14,"P":5.0},{"s":"SQM-CS","J":15,"P":5.3},{"s":"SQM-CS","J":16,"P":5.7},{"s":"SQM-CS","J":17,"P":6.1},{"s":"SQM-CS","J":18,"P":6.5},{"s":"SQM-CS","J":19,"P":6.9},{"s":"SQM-CS","J":20,"P":7.2},{"s":"SQM-CS","J":21,"P":7.6},{"s":"SQM-CS","J":22,"P":8.0},{"s":"SQM-CS","J":23,"P":8.4},{"s":"SQM-CS","J":24,"P":8.8},{"s":"SQM-CS","J":25,"P":9.0},{"s":"SQM-CS","J":26,"P":9.4},{"s":"SQM-CS","J":27,"P":9.8},{"s":"SQM-CS","J":28,"P":10.2},{"s":"SQM-CS","J":29,"P":10.6},{"s":"SQM-CS","J":30,"P":11.0},{"s":"SQM-CS","J":31,"P":11.4},{"s":"SQM-CS","J":32,"P":11.8},{"s":"SQM-CS","J":33,"P":12.2},{"s":"SQM-CS","J":34,"P":12.5},{"s":"SQM-CS","J":35,"P":12.8},{"s":"SQM-CS","J":36,"P":12.3},{"s":"SQM-CS","J":37,"P":12.2},{"s":"SQM-CS","J":38,"P":12.8},{"s":"SQM-CS","J":39,"P":13.4},{"s":"SQM-CS","J":40,"P":13.4},{"s":"SQM-CS","J":41,"P":13.0},{"s":"SQM-CS","J":42,"P":12.9},{"s":"SQM-CS","J":43,"P":13.5},{"s":"SQM-CS","J":44,"P":14.0},{"s":"SQM-CS","J":45,"P":14.4},{"s":"SQM-CS","J":46,"P":14.7},{"s":"SQM-CS","J":47,"P":14.4},{"s":"SQM-CS","J":48,"P":14.5},{"s":"SQM-CS","J":49,"P":14.6},{"s":"SQM-CS","J":50,"P":14.5},{"s":"SQM-CS","J":51,"P":14.6},{"s":"SQM-CS","J":52,"P":14.7},{"s":"SQM-CS","J":53,"P":14.6},{"s":"SQM-CS","J":54,"P":14.4},{"s":"SQM-CS","J":55,"P":14.0},{"s":"SQM-CS","J":56,"P":12.5},{"s":"SQM-CS","J":57,"P":9.6},{"s":"SQM-CS","J":58,"P":8.4},{"s":"SQM-CS","J":59,"P":7.8},{"s":"SQM-CS","J":60,"P":7.8},{"s":"SQM-CS","J":61,"P":7.5},{"s":"SQM-CS","J":62,"P":6.9},{"s":"SQM-CS","J":63,"P":6.8},{"s":"SQM-CS","J":64,"P":6.5},{"s":"SQM-CS","J":65,"P":6.4},{"s":"SQM-CS","J":66,"P":6.5},{"s":"SQM-CS","J":67,"P":6.5},{"s":"SQM-CS","J":68,"P":6.5},{"s":"SQM-CS","J":69,"P":6.3},{"s":"SQM-CS","J":70,"P":5.2},{"s":"SQM-CS","J":71,"P":4.5},{"s":"SQM-CS","J":72,"P":4.0},{"s":"SQM-CS","J":73,"P":3.8},{"s":"SQM-CS","J":74,"P":4.3},{"s":"SQM-CS","J":75,"P":4.6},{"s":"SQM-CS","J":76,"P":5.0},{"s":"SQM-CS","J":77,"P":5.6},{"s":"SQM-CS","J":78,"P":1.0},{"s":"SQM-CS","J":79,"P":0},{"s":"SQM-CS","J":90,"P":0}
],
"br":[
{"s":"WP-CC","J":0,"P":0},{"s":"WP-CC","J":1,"P":0.5},{"s":"WP-CC","J":2,"P":1.0},{"s":"WP-CC","J":3,"P":1.4},{"s":"WP-CC","J":4,"P":1.8},{"s":"WP-CC","J":5,"P":2.2},{"s":"WP-CC","J":6,"P":2.6},{"s":"WP-CC","J":7,"P":3.0},{"s":"WP-CC","J":8,"P":3.3},{"s":"WP-CC","J":9,"P":3.7},{"s":"WP-CC","J":10,"P":4.0},{"s":"WP-CC","J":11,"P":4.1},{"s":"WP-CC","J":12,"P":4.2},{"s":"WP-CC","J":13,"P":4.35},{"s":"WP-CC","J":14,"P":4.5},{"s":"WP-CC","J":15,"P":4.6},{"s":"WP-CC","J":16,"P":4.9},{"s":"WP-CC","J":17,"P":5.2},{"s":"WP-CC","J":18,"P":5.5},{"s":"WP-CC","J":19,"P":5.8},{"s":"WP-CC","J":20,"P":6.0},{"s":"WP-CC","J":21,"P":6.1},{"s":"WP-CC","J":22,"P":6.5},{"s":"WP-CC","J":23,"P":6.1},{"s":"WP-CC","J":24,"P":7.0},{"s":"WP-CC","J":25,"P":6.6},{"s":"WP-CC","J":26,"P":7.0},{"s":"WP-CC","J":27,"P":7.3},{"s":"WP-CC","J":28,"P":8.6},{"s":"WP-CC","J":29,"P":9.1},{"s":"WP-CC","J":30,"P":8.7},{"s":"WP-CC","J":31,"P":8.5},{"s":"WP-CC","J":32,"P":8.5},{"s":"WP-CC","J":33,"P":8.7},{"s":"WP-CC","J":34,"P":9.6},{"s":"WP-CC","J":35,"P":10.3},{"s":"WP-CC","J":36,"P":9.8},{"s":"WP-CC","J":37,"P":10.7},{"s":"WP-CC","J":38,"P":11.4},{"s":"WP-CC","J":39,"P":11.8},{"s":"WP-CC","J":40,"P":12.1},{"s":"WP-CC","J":41,"P":12.2},{"s":"WP-CC","J":42,"P":12.1},{"s":"WP-CC","J":43,"P":12.8},{"s":"WP-CC","J":44,"P":14.2},{"s":"WP-CC","J":45,"P":14.9},{"s":"WP-CC","J":46,"P":14.7},{"s":"WP-CC","J":47,"P":13.4},{"s":"WP-CC","J":48,"P":14.5},{"s":"WP-CC","J":49,"P":14.6},{"s":"WP-CC","J":50,"P":15.4},{"s":"WP-CC","J":51,"P":17.2},{"s":"WP-CC","J":52,"P":17.1},{"s":"WP-CC","J":53,"P":19.0},{"s":"WP-CC","J":54,"P":20.0},{"s":"WP-CC","J":55,"P":20.5},{"s":"WP-CC","J":56,"P":24.0},{"s":"WP-CC","J":57,"P":24.0},{"s":"WP-CC","J":58,"P":24.0},{"s":"WP-CC","J":59,"P":23.1},{"s":"WP-CC","J":60,"P":25.0},{"s":"WP-CC","J":61,"P":24.0},{"s":"WP-CC","J":62,"P":22.6},{"s":"WP-CC","J":63,"P":19.6},{"s":"WP-CC","J":64,"P":20.9},{"s":"WP-CC","J":65,"P":19.2},{"s":"WP-CC","J":66,"P":18.0},{"s":"WP-CC","J":67,"P":14.8},{"s":"WP-CC","J":68,"P":13.5},{"s":"WP-CC","J":69,"P":14.6},{"s":"WP-CC","J":70,"P":19.1},{"s":"WP-CC","J":71,"P":12.6},{"s":"WP-CC","J":72,"P":7.8},{"s":"WP-CC","J":73,"P":9.5},{"s":"WP-CC","J":74,"P":7.7},{"s":"WP-CC","J":75,"P":6.5},{"s":"WP-CC","J":76,"P":5.5},{"s":"WP-CC","J":77,"P":5.2},{"s":"WP-CC","J":78,"P":4.4},{"s":"WP-CC","J":79,"P":4.3},{"s":"WP-CC","J":80,"P":4.4},{"s":"WP-CC","J":81,"P":3.0},{"s":"WP-CC","J":82,"P":1.8},{"s":"WP-CC","J":83,"P":1.5},{"s":"WP-CC","J":84,"P":1.5},{"s":"WP-CC","J":85,"P":2.3},{"s":"WP-CC","J":86,"P":0.5},{"s":"WP-CC","J":87,"P":0.1},{"s":"WP-CC","J":88,"P":0},{"s":"WP-CC","J":90,"P":0},
{"s":"WP-CS","J":0,"P":0},{"s":"WP-CS","J":1,"P":0.6},{"s":"WP-CS","J":2,"P":1.1},{"s":"WP-CS","J":3,"P":1.5},{"s":"WP-CS","J":4,"P":2.0},{"s":"WP-CS","J":5,"P":2.4},{"s":"WP-CS","J":6,"P":2.7},{"s":"WP-CS","J":7,"P":3.0},{"s":"WP-CS","J":8,"P":3.3},{"s":"WP-CS","J":9,"P":3.6},{"s":"WP-CS","J":10,"P":3.8},{"s":"WP-CS","J":11,"P":4.0},{"s":"WP-CS","J":12,"P":4.3},{"s":"WP-CS","J":13,"P":4.8},{"s":"WP-CS","J":14,"P":6.0},{"s":"WP-CS","J":15,"P":7.4},{"s":"WP-CS","J":16,"P":7.2},{"s":"WP-CS","J":17,"P":7.2},{"s":"WP-CS","J":18,"P":7.4},{"s":"WP-CS","J":19,"P":7.5},{"s":"WP-CS","J":20,"P":9.4},{"s":"WP-CS","J":21,"P":9.4},{"s":"WP-CS","J":22,"P":9.7},{"s":"WP-CS","J":23,"P":10.5},{"s":"WP-CS","J":24,"P":11.0},{"s":"WP-CS","J":25,"P":11.8},{"s":"WP-CS","J":26,"P":11.4},{"s":"WP-CS","J":27,"P":11.5},{"s":"WP-CS","J":28,"P":12.5},{"s":"WP-CS","J":29,"P":14.2},{"s":"WP-CS","J":30,"P":15.2},{"s":"WP-CS","J":31,"P":16.4},{"s":"WP-CS","J":32,"P":17.7},{"s":"WP-CS","J":33,"P":16.8},{"s":"WP-CS","J":34,"P":17.0},{"s":"WP-CS","J":35,"P":19.7},{"s":"WP-CS","J":36,"P":21.7},{"s":"WP-CS","J":37,"P":21.2},{"s":"WP-CS","J":38,"P":22.0},{"s":"WP-CS","J":39,"P":22.8},{"s":"WP-CS","J":40,"P":23.5},{"s":"WP-CS","J":41,"P":24.3},{"s":"WP-CS","J":42,"P":25.1},{"s":"WP-CS","J":43,"P":24.6},{"s":"WP-CS","J":44,"P":24.2},{"s":"WP-CS","J":45,"P":23.4},{"s":"WP-CS","J":46,"P":22.4},{"s":"WP-CS","J":47,"P":21.6},{"s":"WP-CS","J":48,"P":22.1},{"s":"WP-CS","J":49,"P":18.0},{"s":"WP-CS","J":50,"P":18.4},{"s":"WP-CS","J":51,"P":22.4},{"s":"WP-CS","J":52,"P":18.0},{"s":"WP-CS","J":53,"P":15.9},{"s":"WP-CS","J":54,"P":14.6},{"s":"WP-CS","J":55,"P":14.1},{"s":"WP-CS","J":56,"P":8.0},{"s":"WP-CS","J":57,"P":9.0},{"s":"WP-CS","J":58,"P":9.4},{"s":"WP-CS","J":59,"P":12.4},{"s":"WP-CS","J":60,"P":10.7},{"s":"WP-CS","J":61,"P":6.9},{"s":"WP-CS","J":62,"P":9.5},{"s":"WP-CS","J":63,"P":15.5},{"s":"WP-CS","J":64,"P":10.5},{"s":"WP-CS","J":65,"P":13.5},{"s":"WP-CS","J":66,"P":12.5},{"s":"WP-CS","J":67,"P":8.0},{"s":"WP-CS","J":68,"P":4.5},{"s":"WP-CS","J":69,"P":5.2},{"s":"WP-CS","J":70,"P":13.5},{"s":"WP-CS","J":71,"P":13.5},{"s":"WP-CS","J":72,"P":17.2},{"s":"WP-CS","J":73,"P":12.0},{"s":"WP-CS","J":74,"P":12.2},{"s":"WP-CS","J":75,"P":12.2},{"s":"WP-CS","J":76,"P":14.6},{"s":"WP-CS","J":77,"P":3.1},{"s":"WP-CS","J":78,"P":8.4},{"s":"WP-CS","J":79,"P":6.9},{"s":"WP-CS","J":80,"P":9.4},{"s":"WP-CS","J":81,"P":8.3},{"s":"WP-CS","J":82,"P":11.2},{"s":"WP-CS","J":83,"P":10.2},{"s":"WP-CS","J":84,"P":16.2},{"s":"WP-CS","J":85,"P":1.8},{"s":"WP-CS","J":86,"P":0.2},{"s":"WP-CS","J":87,"P":0},
{"s":"SQM-CC","J":0,"P":0},{"s":"SQM-CC","J":1,"P":0.8},{"s":"SQM-CC","J":2,"P":1.4},{"s":"SQM-CC","J":3,"P":2.0},{"s":"SQM-CC","J":4,"P":2.45},{"s":"SQM-CC","J":5,"P":2.85},{"s":"SQM-CC","J":6,"P":3.25},{"s":"SQM-CC","J":7,"P":3.6},{"s":"SQM-CC","J":8,"P":3.95},{"s":"SQM-CC","J":9,"P":4.3},{"s":"SQM-CC","J":10,"P":4.6},{"s":"SQM-CC","J":11,"P":4.9},{"s":"SQM-CC","J":12,"P":5.15},{"s":"SQM-CC","J":13,"P":5.45},{"s":"SQM-CC","J":14,"P":5.7},{"s":"SQM-CC","J":15,"P":6.0},{"s":"SQM-CC","J":16,"P":6.3},{"s":"SQM-CC","J":17,"P":6.6},{"s":"SQM-CC","J":18,"P":6.95},{"s":"SQM-CC","J":19,"P":7.3},{"s":"SQM-CC","J":20,"P":7.7},{"s":"SQM-CC","J":21,"P":8.2},{"s":"SQM-CC","J":22,"P":8.7},{"s":"SQM-CC","J":23,"P":9.2},{"s":"SQM-CC","J":24,"P":9.8},{"s":"SQM-CC","J":25,"P":10.3},{"s":"SQM-CC","J":26,"P":10.8},{"s":"SQM-CC","J":27,"P":11.3},{"s":"SQM-CC","J":28,"P":11.9},{"s":"SQM-CC","J":29,"P":12.4},{"s":"SQM-CC","J":30,"P":12.9},{"s":"SQM-CC","J":31,"P":13.4},{"s":"SQM-CC","J":32,"P":13.9},{"s":"SQM-CC","J":33,"P":14.3},{"s":"SQM-CC","J":34,"P":14.6},{"s":"SQM-CC","J":35,"P":15.0},{"s":"SQM-CC","J":36,"P":15.4},{"s":"SQM-CC","J":37,"P":15.8},{"s":"SQM-CC","J":38,"P":16.2},{"s":"SQM-CC","J":39,"P":16.6},{"s":"SQM-CC","J":40,"P":16.9},{"s":"SQM-CC","J":41,"P":17.2},{"s":"SQM-CC","J":42,"P":17.6},{"s":"SQM-CC","J":43,"P":18.0},{"s":"SQM-CC","J":44,"P":18.3},{"s":"SQM-CC","J":45,"P":18.7},{"s":"SQM-CC","J":46,"P":18.8},{"s":"SQM-CC","J":47,"P":19.1},{"s":"SQM-CC","J":48,"P":19.2},{"s":"SQM-CC","J":49,"P":19.5},{"s":"SQM-CC","J":50,"P":19.8},{"s":"SQM-CC","J":51,"P":19.5},{"s":"SQM-CC","J":52,"P":19.4},{"s":"SQM-CC","J":53,"P":19.3},{"s":"SQM-CC","J":54,"P":18.8},{"s":"SQM-CC","J":55,"P":18.5},{"s":"SQM-CC","J":56,"P":17.8},{"s":"SQM-CC","J":57,"P":17.3},{"s":"SQM-CC","J":58,"P":16.9},{"s":"SQM-CC","J":59,"P":15.5},{"s":"SQM-CC","J":60,"P":15.0},{"s":"SQM-CC","J":61,"P":13.5},{"s":"SQM-CC","J":62,"P":11.5},{"s":"SQM-CC","J":63,"P":6.9},{"s":"SQM-CC","J":64,"P":6.0},{"s":"SQM-CC","J":65,"P":5.8},{"s":"SQM-CC","J":66,"P":5.6},{"s":"SQM-CC","J":67,"P":5.3},{"s":"SQM-CC","J":68,"P":5.2},{"s":"SQM-CC","J":69,"P":5.0},{"s":"SQM-CC","J":70,"P":4.8},{"s":"SQM-CC","J":71,"P":5.0},{"s":"SQM-CC","J":72,"P":4.8},{"s":"SQM-CC","J":73,"P":4.2},{"s":"SQM-CC","J":74,"P":3.7},{"s":"SQM-CC","J":75,"P":3.9},{"s":"SQM-CC","J":76,"P":4.2},{"s":"SQM-CC","J":77,"P":3.9},{"s":"SQM-CC","J":78,"P":3.6},{"s":"SQM-CC","J":79,"P":3.3},{"s":"SQM-CC","J":80,"P":3.0},{"s":"SQM-CC","J":81,"P":2.5},{"s":"SQM-CC","J":82,"P":1.9},{"s":"SQM-CC","J":83,"P":1.4},{"s":"SQM-CC","J":84,"P":1.2},{"s":"SQM-CC","J":85,"P":0.7},{"s":"SQM-CC","J":86,"P":0.2},{"s":"SQM-CC","J":87,"P":0},{"s":"SQM-CC","J":90,"P":0},
{"s":"SQM-CS","J":0,"P":0},{"s":"SQM-CS","J":1,"P":0.7},{"s":"SQM-CS","J":2,"P":1.3},{"s":"SQM-CS","J":3,"P":1.9},{"s":"SQM-CS","J":4,"P":2.3},{"s":"SQM-CS","J":5,"P":2.7},{"s":"SQM-CS","J":6,"P":3.1},{"s":"SQM-CS","J":7,"P":3.45},{"s":"SQM-CS","J":8,"P":3.8},{"s":"SQM-CS","J":9,"P":4.15},{"s":"SQM-CS","J":10,"P":4.5},{"s":"SQM-CS","J":11,"P":4.75},{"s":"SQM-CS","J":12,"P":5.05},{"s":"SQM-CS","J":13,"P":5.3},{"s":"SQM-CS","J":14,"P":5.55},{"s":"SQM-CS","J":15,"P":5.8},{"s":"SQM-CS","J":16,"P":6.1},{"s":"SQM-CS","J":17,"P":6.4},{"s":"SQM-CS","J":18,"P":6.8},{"s":"SQM-CS","J":19,"P":7.1},{"s":"SQM-CS","J":20,"P":7.5},{"s":"SQM-CS","J":21,"P":7.9},{"s":"SQM-CS","J":22,"P":8.4},{"s":"SQM-CS","J":23,"P":8.9},{"s":"SQM-CS","J":24,"P":9.3},{"s":"SQM-CS","J":25,"P":9.8},{"s":"SQM-CS","J":26,"P":10.3},{"s":"SQM-CS","J":27,"P":10.8},{"s":"SQM-CS","J":28,"P":11.3},{"s":"SQM-CS","J":29,"P":11.7},{"s":"SQM-CS","J":30,"P":12.2},{"s":"SQM-CS","J":31,"P":12.7},{"s":"SQM-CS","J":32,"P":13.1},{"s":"SQM-CS","J":33,"P":13.5},{"s":"SQM-CS","J":34,"P":13.9},{"s":"SQM-CS","J":35,"P":14.3},{"s":"SQM-CS","J":36,"P":14.5},{"s":"SQM-CS","J":37,"P":14.7},{"s":"SQM-CS","J":38,"P":15.0},{"s":"SQM-CS","J":39,"P":15.2},{"s":"SQM-CS","J":40,"P":15.4},{"s":"SQM-CS","J":41,"P":15.6},{"s":"SQM-CS","J":42,"P":16.0},{"s":"SQM-CS","J":43,"P":16.3},{"s":"SQM-CS","J":44,"P":16.5},{"s":"SQM-CS","J":45,"P":16.6},{"s":"SQM-CS","J":46,"P":17.0},{"s":"SQM-CS","J":47,"P":17.2},{"s":"SQM-CS","J":48,"P":17.0},{"s":"SQM-CS","J":49,"P":17.1},{"s":"SQM-CS","J":50,"P":16.8},{"s":"SQM-CS","J":51,"P":16.9},{"s":"SQM-CS","J":52,"P":17.0},{"s":"SQM-CS","J":53,"P":16.6},{"s":"SQM-CS","J":54,"P":17.0},{"s":"SQM-CS","J":55,"P":16.8},{"s":"SQM-CS","J":56,"P":15.9},{"s":"SQM-CS","J":57,"P":16.0},{"s":"SQM-CS","J":58,"P":16.0},{"s":"SQM-CS","J":59,"P":15.8},{"s":"SQM-CS","J":60,"P":15.3},{"s":"SQM-CS","J":61,"P":14.8},{"s":"SQM-CS","J":62,"P":13.3},{"s":"SQM-CS","J":63,"P":8.5},{"s":"SQM-CS","J":64,"P":7.0},{"s":"SQM-CS","J":65,"P":6.8},{"s":"SQM-CS","J":66,"P":7.0},{"s":"SQM-CS","J":67,"P":6.9},{"s":"SQM-CS","J":68,"P":7.0},{"s":"SQM-CS","J":69,"P":6.4},{"s":"SQM-CS","J":70,"P":5.8},{"s":"SQM-CS","J":71,"P":5.8},{"s":"SQM-CS","J":72,"P":5.9},{"s":"SQM-CS","J":73,"P":6.0},{"s":"SQM-CS","J":74,"P":6.0},{"s":"SQM-CS","J":75,"P":5.6},{"s":"SQM-CS","J":76,"P":4.8},{"s":"SQM-CS","J":77,"P":4.4},{"s":"SQM-CS","J":78,"P":4.3},{"s":"SQM-CS","J":79,"P":4.6},{"s":"SQM-CS","J":80,"P":5.2},{"s":"SQM-CS","J":81,"P":6.0},{"s":"SQM-CS","J":82,"P":6.9},{"s":"SQM-CS","J":83,"P":6.5},{"s":"SQM-CS","J":84,"P":2.5},{"s":"SQM-CS","J":85,"P":0.2},{"s":"SQM-CS","J":86,"P":0},{"s":"SQM-CS","J":90,"P":0}
]
},
"columns":2,
"spacing":{"row":36,"column":5},
"bounds":"flush",
"resolve":{"scale":{"color":"independent","strokeDash":"independent"}},
"concat":[
{"width":410,"height":275,"resolve":{"axis":{"x":"independent","y":"independent"}},
"layer":[
{"data":{"name":"tl"},"mark":{"type":"line","strokeWidth":1.8,"clip":true},
"encoding":{
"x":{"field":"J","type":"quantitative","scale":{"domain":[0,70],"nice":false,"zero":false},"axis":{"orient":"bottom","values":[0,10,20,30,40,50,60],"ticks":false,"domain":false,"labelPadding":6,"title":null}},
"y":{"field":"P","type":"quantitative","scale":{"domain":[0,30],"nice":false},"axis":{"orient":"left","values":[0,10,20,30],"ticks":false,"domain":false,"labelPadding":6,"title":"(2J + 1) PJ (Ec)","titleFontSize":27,"titleX":-65,"titleY":279,"titleAngle":270,"titleAlign":"center","titleBaseline":"middle"}},
"color":{"field":"s","type":"nominal","scale":{"domain":["WP-CC","WP-CS","SQM-CC","SQM-CS"],"range":["#ff0000","#ff0000","#000000","#000000"]},"legend":{"title":null,"orient":"none","legendX":222,"legendY":80}},
"strokeDash":{"field":"s","type":"nominal","scale":{"domain":["WP-CC","WP-CS","SQM-CC","SQM-CS"],"range":[[1,0],[2.5,1.5],[1,0],[2.5,1.5]]},"legend":{"title":null,"orient":"none","legendX":222,"legendY":80}}
}},
{"data":{"values":[{"x":6.83,"y":25.6,"t":"E"}]},"mark":{"type":"text","fontSize":22,"fontStyle":"italic","align":"left","baseline":"alphabetic"},
"encoding":{"text":{"field":"t"},
"x":{"field":"x","type":"quantitative","axis":{"orient":"bottom","values":[0,10,20,30,40,50,60,70],"tickSize":7,"offset":-7,"labels":false,"domain":false,"title":null}},
"y":{"field":"y","type":"quantitative","axis":{"orient":"left","values":[0,10,20,30],"tickSize":7,"offset":-7,"labels":false,"domain":false,"title":null}}}},
{"data":{"values":[{"x":6.83,"y":25.6,"t":"c"}]},"mark":{"type":"text","fontSize":15,"align":"left","baseline":"alphabetic","dx":14.7,"dy":6},
"encoding":{"text":{"field":"t"},
"x":{"field":"x","type":"quantitative","axis":{"orient":"bottom","values":[5,15,25,35,45,55,65],"tickSize":4,"offset":-4,"labels":false,"domain":false,"title":null}},
"y":{"field":"y","type":"quantitative","axis":{"orient":"left","values":[5,15,25],"tickSize":4,"offset":-4,"labels":false,"domain":false,"title":null}}}},
{"data":{"values":[{"x":6.83,"y":25.6,"t":"= 350 meV"}]},"mark":{"type":"text","fontSize":22,"align":"left","baseline":"alphabetic","dx":28.3},
"encoding":{"text":{"field":"t"},
"x":{"field":"x","type":"quantitative","axis":{"orient":"top","values":[0,10,20,30,40,50,60,70],"tickSize":7,"offset":-7,"labels":false,"domain":false,"title":null}},
"y":{"field":"y","type":"quantitative","axis":{"orient":"right","values":[0,10,20,30],"tickSize":7,"offset":-7,"labels":false,"domain":false,"title":null}}}},
{"data":{"values":[{"x":46.6,"y":25.5,"t":"v"}]},"mark":{"type":"text","fontSize":22,"fontStyle":"italic","align":"left","baseline":"alphabetic"},
"encoding":{"text":{"field":"t"},
"x":{"field":"x","type":"quantitative","axis":{"orient":"top","values":[5,15,25,35,45,55,65],"tickSize":4,"offset":-4,"labels":false,"domain":false,"title":null}},
"y":{"field":"y","type":"quantitative","axis":{"orient":"right","values":[5,15,25],"tickSize":4,"offset":-4,"labels":false,"domain":false,"title":null}}}},
{"data":{"values":[{"x":46.6,"y":25.5,"t":"= 0,"}]},"mark":{"type":"text","fontSize":22,"align":"left","baseline":"alphabetic","dx":17.1},
"encoding":{"text":{"field":"t"},"x":{"field":"x","type":"quantitative","axis":null},"y":{"field":"y","type":"quantitative","axis":null}}},
{"data":{"values":[{"x":46.6,"y":25.5,"t":"j"}]},"mark":{"type":"text","fontSize":22,"fontStyle":"italic","align":"left","baseline":"alphabetic","dx":60.4},
"encoding":{"text":{"field":"t"},"x":{"field":"x","type":"quantitative","axis":null},"y":{"field":"y","type":"quantitative","axis":null}}},
{"data":{"values":[{"x":46.6,"y":25.5,"t":"= 0"}]},"mark":{"type":"text","fontSize":22,"align":"left","baseline":"alphabetic","dx":71.4},
"encoding":{"text":{"field":"t"},"x":{"field":"x","type":"quantitative","axis":null},"y":{"field":"y","type":"quantitative","axis":null}}}
]},
{"width":410,"height":275,"resolve":{"axis":{"x":"independent","y":"independent"}},
"layer":[
{"data":{"name":"tr"},"mark":{"type":"line","strokeWidth":1.8,"clip":true},
"encoding":{
"x":{"field":"J","type":"quantitative","scale":{"domain":[0,70],"nice":false,"zero":false},"axis":{"orient":"bottom","values":[0,10,20,30,40,50,60,70],"ticks":false,"domain":false,"labelPadding":6,"title":null}},
"y":{"field":"P","type":"quantitative","scale":{"domain":[0,30],"nice":false},"axis":null},
"color":{"field":"s","type":"nominal","scale":{"domain":["WP-CC","WP-CS","SQM-CC","SQM-CS"],"range":["#ff0000","#ff0000","#000000","#000000"]},"legend":null},
"strokeDash":{"field":"s","type":"nominal","scale":{"domain":["WP-CC","WP-CS","SQM-CC","SQM-CS"],"range":[[1,0],[2.5,1.5],[1,0],[2.5,1.5]]},"legend":null}
}},
{"data":{"values":[{"x":7.3,"y":25.4,"t":"E"}]},"mark":{"type":"text","fontSize":22,"fontStyle":"italic","align":"left","baseline":"alphabetic"},
"encoding":{"text":{"field":"t"},
"x":{"field":"x","type":"quantitative","axis":{"orient":"bottom","values":[0,10,20,30,40,50,60,70],"tickSize":7,"offset":-7,"labels":false,"domain":false,"title":null}},
"y":{"field":"y","type":"quantitative","axis":{"orient":"left","values":[0,10,20,30],"tickSize":7,"offset":-7,"labels":false,"domain":false,"title":null}}}},
{"data":{"values":[{"x":7.3,"y":25.4,"t":"c"}]},"mark":{"type":"text","fontSize":15,"align":"left","baseline":"alphabetic","dx":14.7,"dy":6},
"encoding":{"text":{"field":"t"},
"x":{"field":"x","type":"quantitative","axis":{"orient":"bottom","values":[5,15,25,35,45,55,65],"tickSize":4,"offset":-4,"labels":false,"domain":false,"title":null}},
"y":{"field":"y","type":"quantitative","axis":{"orient":"left","values":[5,15,25],"tickSize":4,"offset":-4,"labels":false,"domain":false,"title":null}}}},
{"data":{"values":[{"x":7.3,"y":25.4,"t":"= 450 meV"}]},"mark":{"type":"text","fontSize":22,"align":"left","baseline":"alphabetic","dx":28.3},
"encoding":{"text":{"field":"t"},
"x":{"field":"x","type":"quantitative","axis":{"orient":"top","values":[0,10,20,30,40,50,60,70],"tickSize":7,"offset":-7,"labels":false,"domain":false,"title":null}},
"y":{"field":"y","type":"quantitative","axis":{"orient":"right","values":[0,10,20,30],"tickSize":7,"offset":-7,"labels":false,"domain":false,"title":null}}}},
{"data":{"values":[{"x":45.5,"y":25.4,"t":"v"}]},"mark":{"type":"text","fontSize":22,"fontStyle":"italic","align":"left","baseline":"alphabetic"},
"encoding":{"text":{"field":"t"},
"x":{"field":"x","type":"quantitative","axis":{"orient":"top","values":[5,15,25,35,45,55,65],"tickSize":4,"offset":-4,"labels":false,"domain":false,"title":null}},
"y":{"field":"y","type":"quantitative","axis":{"orient":"right","values":[5,15,25],"tickSize":4,"offset":-4,"labels":false,"domain":false,"title":null}}}},
{"data":{"values":[{"x":45.5,"y":25.4,"t":"= 0,"}]},"mark":{"type":"text","fontSize":22,"align":"left","baseline":"alphabetic","dx":17.1},
"encoding":{"text":{"field":"t"},"x":{"field":"x","type":"quantitative","axis":null},"y":{"field":"y","type":"quantitative","axis":null}}},
{"data":{"values":[{"x":45.5,"y":25.4,"t":"j"}]},"mark":{"type":"text","fontSize":22,"fontStyle":"italic","align":"left","baseline":"alphabetic","dx":60.4},
"encoding":{"text":{"field":"t"},"x":{"field":"x","type":"quantitative","axis":null},"y":{"field":"y","type":"quantitative","axis":null}}},
{"data":{"values":[{"x":45.5,"y":25.4,"t":"= 0"}]},"mark":{"type":"text","fontSize":22,"align":"left","baseline":"alphabetic","dx":71.4},
"encoding":{"text":{"field":"t"},"x":{"field":"x","type":"quantitative","axis":null},"y":{"field":"y","type":"quantitative","axis":null}}}
]},
{"width":410,"height":275,"resolve":{"axis":{"x":"independent","y":"independent"}},
"layer":[
{"data":{"name":"bl"},"mark":{"type":"line","strokeWidth":1.8,"clip":true},
"encoding":{
"x":{"field":"J","type":"quantitative","scale":{"domain":[0,90],"nice":false,"zero":false},"axis":{"orient":"bottom","values":[0,10,20,30,40,50,60,70,80],"ticks":false,"domain":false,"labelPadding":6,"title":"Total angular momentum, J","titleFontSize":22,"titlePadding":10}},
"y":{"field":"P","type":"quantitative","scale":{"domain":[0,35],"nice":false},"axis":{"orient":"left","values":[0,10,20,30],"ticks":false,"domain":false,"labelPadding":6,"title":null}},
"color":{"field":"s","type":"nominal","scale":{"domain":["WP-CC","WP-CS","SQM-CC","SQM-CS"],"range":["#ff0000","#ff0000","#000000","#000000"]},"legend":null},
"strokeDash":{"field":"s","type":"nominal","scale":{"domain":["WP-CC","WP-CS","SQM-CC","SQM-CS"],"range":[[1,0],[2.5,1.5],[1,0],[2.5,1.5]]},"legend":null}
}},
{"data":{"values":[{"x":5.5,"y":30.3,"t":"E"}]},"mark":{"type":"text","fontSize":22,"fontStyle":"italic","align":"left","baseline":"alphabetic"},
"encoding":{"text":{"field":"t"},
"x":{"field":"x","type":"quantitative","axis":{"orient":"bottom","values":[0,10,20,30,40,50,60,70,80,90],"tickSize":7,"offset":-7,"labels":false,"domain":false,"title":null}},
"y":{"field":"y","type":"quantitative","axis":{"orient":"left","values":[0,10,20,30],"tickSize":7,"offset":-7,"labels":false,"domain":false,"title":null}}}},
{"data":{"values":[{"x":5.5,"y":30.3,"t":"c"}]},"mark":{"type":"text","fontSize":15,"align":"left","baseline":"alphabetic","dx":14.7,"dy":6},
"encoding":{"text":{"field":"t"},
"x":{"field":"x","type":"quantitative","axis":{"orient":"bottom","values":[5,15,25,35,45,55,65,75,85],"tickSize":4,"offset":-4,"labels":false,"domain":false,"title":null}},
"y":{"field":"y","type":"quantitative","axis":{"orient":"left","values":[5,15,25],"tickSize":4,"offset":-4,"labels":false,"domain":false,"title":null}}}},
{"data":{"values":[{"x":5.5,"y":30.3,"t":"= 350 meV"}]},"mark":{"type":"text","fontSize":22,"align":"left","baseline":"alphabetic","dx":28.3},
"encoding":{"text":{"field":"t"},
"x":{"field":"x","type":"quantitative","axis":{"orient":"top","values":[0,10,20,30,40,50,60,70,80,90],"tickSize":7,"offset":-7,"labels":false,"domain":false,"title":null}},
"y":{"field":"y","type":"quantitative","axis":{"orient":"right","values":[0,10,20,30],"tickSize":7,"offset":-7,"labels":false,"domain":false,"title":null}}}},
{"data":{"values":[{"x":59.3,"y":30.3,"t":"v"}]},"mark":{"type":"text","fontSize":22,"fontStyle":"italic","align":"left","baseline":"alphabetic"},
"encoding":{"text":{"field":"t"},
"x":{"field":"x","type":"quantitative","axis":{"orient":"top","values":[5,15,25,35,45,55,65,75,85],"tickSize":4,"offset":-4,"labels":false,"domain":false,"title":null}},
"y":{"field":"y","type":"quantitative","axis":{"orient":"right","values":[5,15,25],"tickSize":4,"offset":-4,"labels":false,"domain":false,"title":null}}}},
{"data":{"values":[{"x":59.3,"y":30.3,"t":"= 1,"}]},"mark":{"type":"text","fontSize":22,"align":"left","baseline":"alphabetic","dx":17.1},
"encoding":{"text":{"field":"t"},"x":{"field":"x","type":"quantitative","axis":null},"y":{"field":"y","type":"quantitative","axis":null}}},
{"data":{"values":[{"x":59.3,"y":30.3,"t":"j"}]},"mark":{"type":"text","fontSize":22,"fontStyle":"italic","align":"left","baseline":"alphabetic","dx":60.4},
"encoding":{"text":{"field":"t"},"x":{"field":"x","type":"quantitative","axis":null},"y":{"field":"y","type":"quantitative","axis":null}}},
{"data":{"values":[{"x":59.3,"y":30.3,"t":"= 0"}]},"mark":{"type":"text","fontSize":22,"align":"left","baseline":"alphabetic","dx":71.4},
"encoding":{"text":{"field":"t"},"x":{"field":"x","type":"quantitative","axis":null},"y":{"field":"y","type":"quantitative","axis":null}}}
]},
{"width":410,"height":275,"resolve":{"axis":{"x":"independent","y":"independent"}},
"layer":[
{"data":{"name":"br"},"mark":{"type":"line","strokeWidth":1.8,"clip":true},
"encoding":{
"x":{"field":"J","type":"quantitative","scale":{"domain":[0,90],"nice":false,"zero":false},"axis":{"orient":"bottom","values":[0,10,20,30,40,50,60,70,80,90],"ticks":false,"domain":false,"labelPadding":6,"title":"Total angular momentum, J","titleFontSize":22,"titlePadding":10}},
"y":{"field":"P","type":"quantitative","scale":{"domain":[0,35],"nice":false},"axis":null},
"color":{"field":"s","type":"nominal","scale":{"domain":["WP-CC","WP-CS","SQM-CC","SQM-CS"],"range":["#ff0000","#ff0000","#000000","#000000"]},"legend":null},
"strokeDash":{"field":"s","type":"nominal","scale":{"domain":["WP-CC","WP-CS","SQM-CC","SQM-CS"],"range":[[1,0],[2.5,1.5],[1,0],[2.5,1.5]]},"legend":null}
}},
{"data":{"values":[{"x":5.0,"y":30.5,"t":"E"}]},"mark":{"type":"text","fontSize":22,"fontStyle":"italic","align":"left","baseline":"alphabetic"},
"encoding":{"text":{"field":"t"},
"x":{"field":"x","type":"quantitative","axis":{"orient":"bottom","values":[0,10,20,30,40,50,60,70,80,90],"tickSize":7,"offset":-7,"labels":false,"domain":false,"title":null}},
"y":{"field":"y","type":"quantitative","axis":{"orient":"left","values":[0,10,20,30],"tickSize":7,"offset":-7,"labels":false,"domain":false,"title":null}}}},
{"data":{"values":[{"x":5.0,"y":30.5,"t":"c"}]},"mark":{"type":"text","fontSize":15,"align":"left","baseline":"alphabetic","dx":14.7,"dy":6},
"encoding":{"text":{"field":"t"},
"x":{"field":"x","type":"quantitative","axis":{"orient":"bottom","values":[5,15,25,35,45,55,65,75,85],"tickSize":4,"offset":-4,"labels":false,"domain":false,"title":null}},
"y":{"field":"y","type":"quantitative","axis":{"orient":"left","values":[5,15,25],"tickSize":4,"offset":-4,"labels":false,"domain":false,"title":null}}}},
{"data":{"values":[{"x":5.0,"y":30.5,"t":"= 450 meV"}]},"mark":{"type":"text","fontSize":22,"align":"left","baseline":"alphabetic","dx":28.3},
"encoding":{"text":{"field":"t"},
"x":{"field":"x","type":"quantitative","axis":{"orient":"top","values":[0,10,20,30,40,50,60,70,80,90],"tickSize":7,"offset":-7,"labels":false,"domain":false,"title":null}},
"y":{"field":"y","type":"quantitative","axis":{"orient":"right","values":[0,10,20,30],"tickSize":7,"offset":-7,"labels":false,"domain":false,"title":null}}}},
{"data":{"values":[{"x":57.9,"y":30.5,"t":"v"}]},"mark":{"type":"text","fontSize":22,"fontStyle":"italic","align":"left","baseline":"alphabetic"},
"encoding":{"text":{"field":"t"},
"x":{"field":"x","type":"quantitative","axis":{"orient":"top","values":[5,15,25,35,45,55,65,75,85],"tickSize":4,"offset":-4,"labels":false,"domain":false,"title":null}},
"y":{"field":"y","type":"quantitative","axis":{"orient":"right","values":[5,15,25],"tickSize":4,"offset":-4,"labels":false,"domain":false,"title":null}}}},
{"data":{"values":[{"x":57.9,"y":30.5,"t":"= 1,"}]},"mark":{"type":"text","fontSize":22,"align":"left","baseline":"alphabetic","dx":17.1},
"encoding":{"text":{"field":"t"},"x":{"field":"x","type":"quantitative","axis":null},"y":{"field":"y","type":"quantitative","axis":null}}},
{"data":{"values":[{"x":57.9,"y":30.5,"t":"j"}]},"mark":{"type":"text","fontSize":22,"fontStyle":"italic","align":"left","baseline":"alphabetic","dx":60.4},
"encoding":{"text":{"field":"t"},"x":{"field":"x","type":"quantitative","axis":null},"y":{"field":"y","type":"quantitative","axis":null}}},
{"data":{"values":[{"x":57.9,"y":30.5,"t":"= 0"}]},"mark":{"type":"text","fontSize":22,"align":"left","baseline":"alphabetic","dx":71.4},
"encoding":{"text":{"field":"t"},"x":{"field":"x","type":"quantitative","axis":null},"y":{"field":"y","type":"quantitative","axis":null}}}
]}
],
"config":{
"font":"Liberation Sans",
"view":{"stroke":"#666666","strokeWidth":1.5},
"axis":{"grid":false,"labelFontSize":21,"labelColor":"#000000","labelFlush":false,"labelOverlap":false,"labelBound":false,"titleFontWeight":"normal","titleColor":"#000000","tickColor":"#444444","tickWidth":1},
"legend":{"symbolType":"M-4,0H4","symbolSize":100,"symbolStrokeWidth":1.8,"labelFontSize":17,"labelColor":"#000000","rowPadding":3.5,"labelOffset":19,"padding":0},
"text":{"color":"#000000"}
}
}
